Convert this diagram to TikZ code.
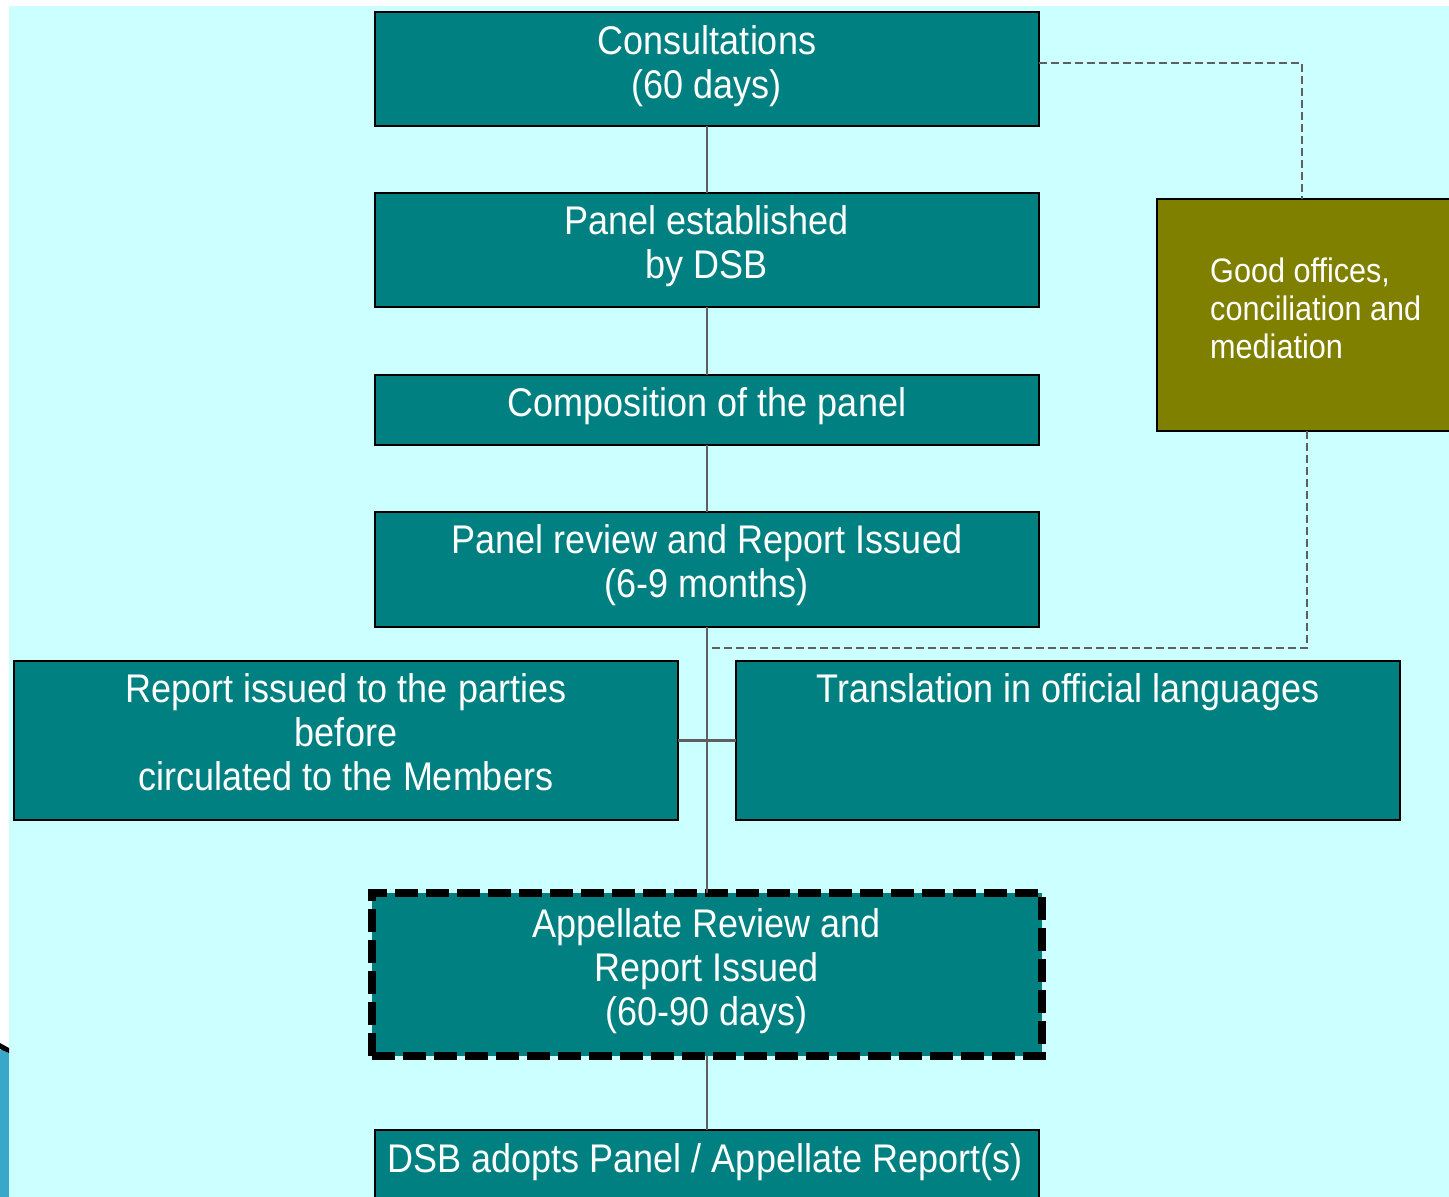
\documentclass[tikz,border=0pt]{standalone}
\usepackage{fontspec}
\setmainfont[FakeStretch=0.9]{Liberation Sans}
\definecolor{bgc}{HTML}{CCFFFF}
\definecolor{boxteal}{HTML}{008080}
\definecolor{boxolive}{HTML}{808000}
\definecolor{linegray}{HTML}{605F5F}
\definecolor{cornerblue}{HTML}{3AA6C8}
\begin{document}
\begin{tikzpicture}[x=1pt,y=-1pt,
  box/.style={draw=black, line width=2.5pt, fill=boxteal, anchor=north west, inner sep=0pt, outer sep=0pt},
  txt/.style={text=white, font=\fontsize{40}{44}\selectfont, align=center, inner sep=0pt, anchor=base},
  smalltxt/.style={text=white, font=\fontsize{34}{38}\selectfont, align=left, inner sep=0pt, anchor=base west},
  conn/.style={draw=linegray, line width=2.2pt},
  dconn/.style={draw=linegray, line width=2.2pt, dash pattern=on 8pt off 4pt},
]
\useasboundingbox (0,0) rectangle (1449,1197);
\clip (0,0) rectangle (1449,1197);
\fill[white] (0,0) rectangle (1449,1197);
\fill[bgc] (9,6) rectangle (1449,1197);
\fill[cornerblue] (0,1050) rectangle (9,1197);
\fill[black] (0,1043) -- (9,1048) -- (9,1053) -- (0,1049) -- cycle;

% boxes
\node[box, minimum width=664pt, minimum height=114pt] (cons) at (375,12) {};
\node[box, minimum width=664pt, minimum height=114pt] (pest) at (375,193) {};
\node[box, minimum width=664pt, minimum height=70pt] (comp) at (375,375) {};
\node[box, minimum width=664pt, minimum height=115pt] (rev) at (375,512) {};
\node[box, minimum width=664pt, minimum height=159pt] (rep) at (14,661) {};
\node[box, minimum width=664pt, minimum height=159pt] (trans) at (736,661) {};
\node[box, draw=black, line width=8pt, dash pattern=on 23pt off 8pt, minimum width=670pt, minimum height=163pt] (appel) at (372,893) {};
\node[box, minimum width=664pt, minimum height=120pt] (adopt) at (375,1130) {};
\node[box, fill=boxolive, minimum width=320pt, minimum height=232pt] (good) at (1157,199) {};

% texts (anchor = baseline of the last line)
\node[txt] (consT) at (707,98) {Consultations\\(60 days)};
\node[txt] (pestT) at (707,278) {Panel established\\by DSB};
\node[txt] (compT) at (707,416) {Composition of the panel};
\node[txt] (revT) at (707,597) {Panel review and Report Issued\\(6-9 months)};
\node[txt] (repT) at (346,790) {Report issued to the parties\\before\\circulated to the Members};
\node[txt] (transT) at (1068,702) {Translation in official languages};
\node[txt] (appelT) at (707,1025) {Appellate Review and\\Report Issued\\(60-90 days)};
\node[txt] (adoptT) at (705,1172) {DSB adopts Panel / Appellate Report(s)};
\node[smalltxt] (goodT) at (1210,358) {Good offices,\\conciliation and\\mediation};

% connectors
\draw[conn] (cons.south) -- (pest.north);
\draw[conn] (pest.south) -- (comp.north);
\draw[conn] (comp.south) -- (rev.north);
\draw[conn] (rev.south) -- (appel.north);
\draw[conn] (appel.south) -- (adopt.north);
\draw[conn] (rep.east) -- (trans.west);

\coordinate (gtop) at (1302,199);
\coordinate (gbot) at (1307,431);
\coordinate (dend) at (710,648);
\draw[dconn] ([yshift=6pt]cons.east) -| (gtop);
\draw[dconn] (gbot) |- (dend);
\end{tikzpicture}
\end{document}
